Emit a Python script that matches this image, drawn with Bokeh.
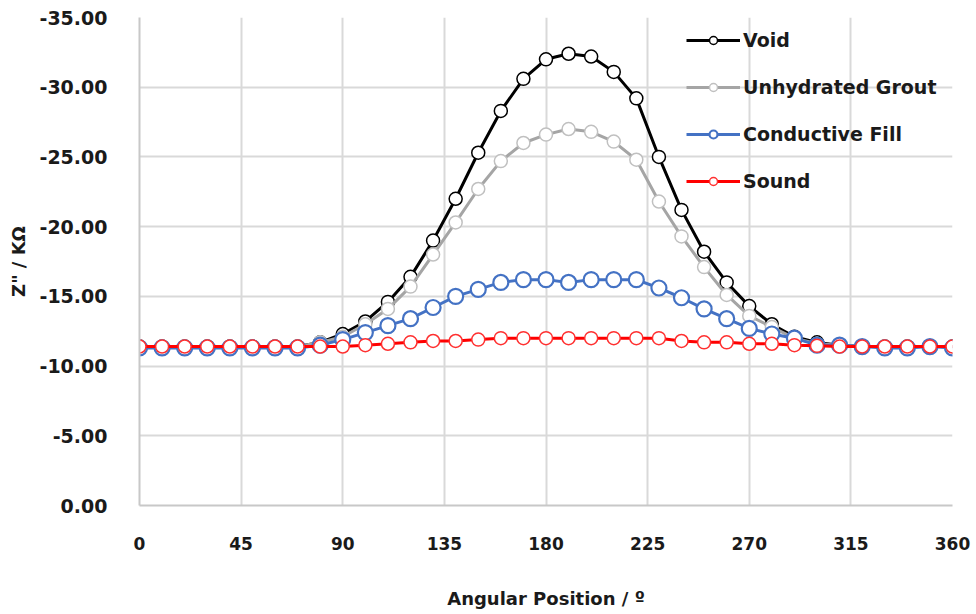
from bokeh.plotting import figure
from bokeh.models import Range1d, FixedTicker, NumeralTickFormatter, Legend, LegendItem
from bokeh.embed import file_html
from bokeh.resources import INLINE

angles = list(range(0, 361, 10))

void = [-11.4, -11.4, -11.4, -11.4, -11.4, -11.4, -11.4, -11.4, -11.7, -12.3,
        -13.2, -14.6, -16.4, -19.0, -22.0, -25.3, -28.3, -30.6, -32.0, -32.4,
        -32.2, -31.1, -29.2, -25.0, -21.2, -18.2, -16.0, -14.3, -13.0, -12.1,
        -11.7, -11.5, -11.4, -11.4, -11.4, -11.4, -11.4]
grout = [-11.4, -11.4, -11.4, -11.4, -11.4, -11.4, -11.4, -11.4, -11.7, -12.1,
         -13.0, -14.1, -15.7, -18.0, -20.3, -22.7, -24.7, -26.0, -26.6, -27.0,
         -26.8, -26.1, -24.8, -21.8, -19.3, -17.1, -15.1, -13.6, -12.8, -12.0,
         -11.6, -11.5, -11.4, -11.4, -11.4, -11.4, -11.4]
conductive = [-11.3, -11.3, -11.3, -11.3, -11.3, -11.3, -11.3, -11.3, -11.5, -11.9,
              -12.4, -12.9, -13.4, -14.2, -15.0, -15.5, -16.0, -16.2, -16.2, -16.0,
              -16.2, -16.2, -16.2, -15.6, -14.9, -14.1, -13.4, -12.7, -12.3, -12.0,
              -11.5, -11.5, -11.4, -11.3, -11.3, -11.4, -11.3]
sound = [-11.4, -11.4, -11.4, -11.4, -11.4, -11.4, -11.4, -11.4, -11.4, -11.4,
         -11.5, -11.6, -11.7, -11.8, -11.8, -11.9, -12.0, -12.0, -12.0, -12.0,
         -12.0, -12.0, -12.0, -12.0, -11.8, -11.7, -11.7, -11.6, -11.6, -11.5,
         -11.45, -11.4, -11.4, -11.4, -11.4, -11.4, -11.4]

series_names = ["Void", "Unhydrated Grout", "Conductive Fill", "Sound"]
x_ticks = [0, 45, 90, 135, 180, 225, 270, 315, 360]
y_ticks = [0, -5, -10, -15, -20, -25, -30, -35]

p = figure(width=976, height=614, output_backend="svg", toolbar_location=None,
           x_range=Range1d(0, 360), y_range=Range1d(0, -35),
           min_border_left=139, min_border_right=24, min_border_top=17, min_border_bottom=109)
p.outline_line_color = None
p.background_fill_color = "white"

FONT = "DejaVu Sans"
grid_col = "#d9d9d9"

p.xaxis.ticker = FixedTicker(ticks=x_ticks)
p.yaxis.ticker = FixedTicker(ticks=y_ticks)
p.yaxis.formatter = NumeralTickFormatter(format="0.00")
for ax in (p.xaxis[0], p.yaxis[0]):
    ax.axis_line_color = "#c8c8c8"
    ax.axis_line_width = 2
    ax.major_tick_line_color = None
    ax.minor_tick_line_color = None
    ax.major_label_text_font = FONT
    ax.major_label_text_font_style = "bold"
    ax.major_label_text_color = "#1a1a1a"
    ax.axis_label_text_font = FONT
    ax.axis_label_text_font_style = "bold"
    ax.axis_label_text_color = "#1a1a1a"
p.yaxis.major_label_text_font_size = "19px"
p.xaxis.major_label_text_font_size = "17px"
p.yaxis.major_label_standoff = 26
p.xaxis.major_label_standoff = 25
p.xaxis.axis_label = "Angular Position / º"
p.yaxis.axis_label = 'Z" / KΩ'
p.xaxis.axis_label_text_font_size = "18px"
p.yaxis.axis_label_text_font_size = "18px"
p.xaxis.axis_label_standoff = 35
p.yaxis.axis_label_standoff = 8

p.xgrid.grid_line_color = grid_col
p.ygrid.grid_line_color = grid_col
p.xgrid.grid_line_width = 2
p.ygrid.grid_line_width = 2

styles = [
    (void, "#000000", "#000000", 3, 13, 1.5),
    (grout, "#a5a5a5", "#c0c0c0", 3, 13, 1.5),
    (conductive, "#4472c4", "#4472c4", 3, 15, 2.2),
    (sound, "#ff0000", "#ff3030", 3, 13, 1.5),
]

items = []
for name, (vals, lc, mc, lw, ms, mlw) in zip(series_names, styles):
    r1 = p.line(angles, vals, line_color=lc, line_width=lw)
    r2 = p.scatter(angles, vals, marker="circle", size=ms, fill_color="white",
                   line_color=mc, line_width=mlw)
    items.append(LegendItem(label=name, renderers=[r1, r2]))

legend = Legend(items=items, location=(547, 313), orientation="vertical",
                background_fill_alpha=0, border_line_color=None,
                label_text_font=FONT, label_text_font_style="bold",
                label_text_font_size="19px", label_text_color="#1a1a1a",
                glyph_width=54, glyph_height=20, label_height=20,
                label_standoff=3, spacing=25, padding=0, margin=0)
p.add_layout(legend, "center")

open("out.html", "w").write(file_html(p, INLINE))
